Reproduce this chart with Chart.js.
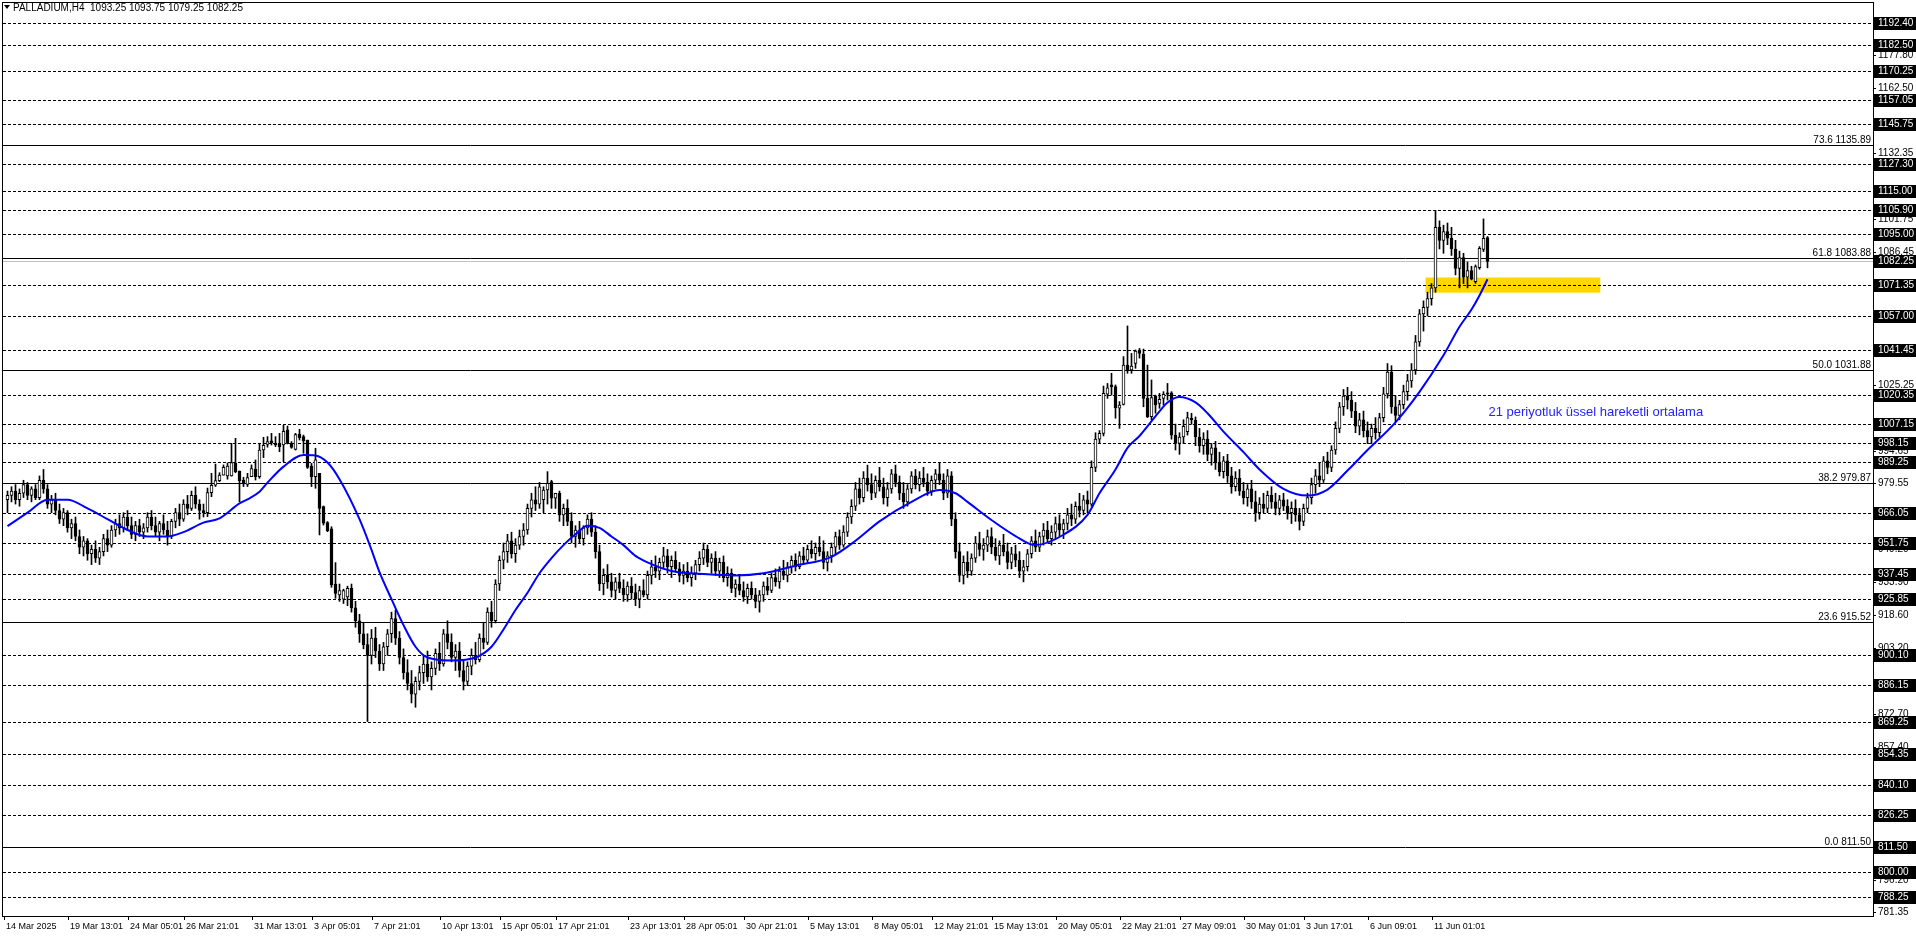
<!DOCTYPE html>
<html>
<head>
<meta charset="utf-8">
<title>PALLADIUM,H4</title>
<script src="https://cdn.jsdelivr.net/npm/chart.js@4.4.1/dist/chart.umd.min.js"></script>
<style>
  html, body { margin: 0; padding: 0; background: #fff; overflow: hidden; }
  canvas { display: block; }
</style>
</head>
<body>
<canvas id="chart" width="1916" height="936"></canvas>
<script>
// H4 candles, one entry per bar (bar 0 = 14 Mar, bar 370 = last bar)
const opens = [
  972, 974, 976, 972, 975, 979, 974, 977, 973, 981,
  977, 970, 972, 967, 963, 966, 959, 961, 955, 950,
  953, 947, 949, 945, 948, 954, 951, 958, 961, 959,
  964, 960, 956, 960, 957, 959, 964, 960, 957, 961,
  958, 955, 962, 966, 963, 970, 968, 974, 970, 967,
  966.0, 975.3, 978.7, 980.8, 983.4, 983.0, 983.0, 988.8, 985.3, 981.1,
  979.1, 982.7, 986.2, 982.7, 995.0, 997.6, 999.2, 998.1, 997.9, 997.3,
  1004.3, 998.1, 995.3, 1002.3, 1001.2, 999.6, 987.6, 982.7, 984.2, 968.8,
  961.4, 958.5, 933.0, 928, 926, 927, 931, 922, 916, 910,
  905, 900, 908, 902, 896, 904, 910, 917, 908, 899,
  892, 887, 882, 888, 892, 896, 890, 894, 901, 896,
  910, 906, 899, 902, 893, 888, 895, 900, 898, 908,
  906, 920, 916, 933, 944, 948, 953, 947, 951, 955,
  958, 968, 972, 970, 972, 976.5, 980.4, 972.7, 975, 965,
  968, 962, 955, 958, 954, 959, 963, 957, 948, 933,
  937, 934, 930, 934, 931, 928, 932, 929, 926, 930,
  928, 937, 941, 939, 943, 946, 941, 944, 940, 937,
  939, 936, 938, 942, 945, 949, 943, 945, 939, 943,
  936, 938, 931, 933, 930, 927, 931, 928, 925, 928,
  932, 930, 936, 934, 939, 937, 941, 944, 941, 946,
  944, 949, 947, 950, 948, 943, 946, 950, 955, 951,
  957, 964, 969, 977, 973, 982, 979, 975, 981, 978,
  973, 977, 984, 980, 975, 971, 977, 983, 979, 982,
  980, 976, 981, 984, 981, 975, 983, 963, 948, 937,
  943, 939, 945, 952, 949, 951, 955, 950, 946, 951,
  948, 943, 947, 944, 939, 941, 947, 953, 950, 955,
  958, 954, 957, 961, 958, 961, 965, 963, 969, 967,
  972, 970, 987, 1000, 1002.7, 1020.8, 1025.1, 1024.3, 1014.3, 1016.1,
  1034.3, 1032.0, 1035.1, 1041.0, 1039.4, 1018.9, 1010.4, 1020.0, 1016.6, 1018.9,
  1021.5, 1021.5, 1001.9, 998, 1001, 1003.5, 1009.7, 1008.9, 1001, 997,
  1000, 993, 996, 989, 985, 990, 983, 978, 982, 976,
  973, 977, 971, 966, 970, 968, 974, 971, 968, 972,
  969, 966, 968, 965, 962, 968, 973, 979, 983, 981,
  990, 987, 995, 1005, 1015, 1020, 1018, 1013, 1006, 1009,
  1004, 1001, 1005, 1003, 1010, 1021, 1031, 1015, 1011, 1016,
  1022, 1027, 1032, 1045, 1058, 1061, 1065, 1070, 1098, 1092,
  1096, 1093, 1088, 1079, 1084, 1075, 1078, 1072.9, 1079.4, 1087.8,
  1093.25
];
const highs = [
  976, 978, 979, 977, 981, 980, 978, 979, 983, 986,
  979, 974, 975, 970, 968, 967, 963, 964, 958, 955,
  954, 951, 953, 950, 956, 958, 960, 963, 965, 966,
  967, 964, 962, 963, 961, 966, 967, 964, 962, 965,
  962, 963, 968, 970, 972, 974, 976, 978, 972, 970,
  977.4, 984.2, 988.5, 984.5, 988.1, 989, 998.1, 1000.4, 985.3, 982.4,
  984.2, 988.1, 990.4, 997.8, 1000.9, 1001.2, 1002.7, 1001.2, 1002.7, 1006.4,
  1006.1, 998.9, 1002.7, 1004.6, 1001.9, 999.6, 988.8, 995.8, 984.2, 969.1,
  961.9, 959.5, 942.9, 933, 930.6, 932, 933, 925, 919, 915,
  910, 912, 913, 905, 906, 912, 920, 921, 911, 903,
  898, 893, 890, 895, 900, 902, 897, 903, 906, 912,
  916, 910, 905, 906, 898, 897, 903, 906, 910, 915,
  922, 925, 935, 946, 952, 956, 957, 954, 958, 961,
  970, 975, 978, 980, 978, 985, 981, 975, 976, 970,
  972, 966, 960, 962, 960, 965, 966, 960, 951, 940,
  942, 938, 936, 938, 935, 934, 936, 933, 932, 935,
  939, 944, 946, 945, 950, 949, 946, 948, 943, 942,
  943, 941, 944, 948, 952, 951, 947, 948, 945, 946,
  941, 940, 935, 937, 934, 933, 934, 931, 930, 934,
  936, 938, 940, 941, 944, 943, 946, 947, 948, 950,
  951, 953, 952, 955, 953, 948, 952, 957, 958, 960,
  966, 972, 980, 982, 985, 988, 984, 983, 987, 982,
  980, 986, 988, 983, 980, 979, 985, 986, 985, 987,
  984, 983, 986, 989, 984, 986, 985, 966, 952, 946,
  948, 947, 955, 957, 954, 958, 959, 954, 953, 956,
  952, 950, 951, 948, 944, 949, 955, 958, 957, 961,
  962, 960, 964, 965, 963, 968, 970, 971, 975, 974,
  976, 990, 1003, 1004, 1024.6, 1025.8, 1030.5, 1025.1, 1017.4, 1038.2,
  1052.4, 1039.7, 1041.3, 1042.0, 1041.7, 1034.3, 1027.4, 1020.4, 1021.2, 1022.0,
  1025.8, 1022.0, 1007, 1003, 1009, 1012.5, 1012.0, 1010.3, 1005, 1003,
  1004, 998, 999, 994, 992, 993, 987, 985, 986, 980,
  979, 981, 976, 973, 975, 976, 978, 975, 974, 975,
  972, 971, 972, 968, 970, 975, 982, 986, 989, 992,
  994, 997, 1008, 1017, 1023, 1024, 1022, 1017, 1012, 1013,
  1008, 1007, 1010, 1012, 1024, 1035, 1034, 1020, 1018, 1025,
  1030, 1035, 1048, 1060, 1064, 1068, 1072, 1105.9, 1101, 1099,
  1100, 1098, 1092, 1087, 1086, 1082, 1080, 1080.6, 1089.1, 1101.9,
  1093.75
];
const lows = [
  966, 971, 970, 969, 973, 972, 971, 972, 972, 975,
  968, 966, 965, 961, 960, 957, 954, 953, 947, 946,
  944, 942, 943, 942, 946, 948, 950, 955, 956, 957,
  958, 954, 953, 955, 954, 957, 958, 955, 953, 956,
  951, 954, 959, 960, 962, 965, 967, 968, 963, 964,
  964.2, 973.4, 978.1, 980.4, 983.4, 981.5, 982.9, 984.5, 971.1, 978.1,
  978.1, 982.7, 981.1, 981.9, 991.5, 996.3, 997.3, 996.6, 994.2, 989.6,
  997.8, 995.8, 995.0, 999.6, 993.5, 986.5, 978.1, 977.3, 955.7, 960.3,
  957.2, 931.5, 926.4, 925, 924, 923, 920, 913, 906, 903,
  869.4, 896, 899, 893, 893, 900, 906, 905, 896, 889,
  884, 878, 876, 884, 887, 888, 884, 891, 893, 895,
  903, 897, 893, 890, 884, 886, 891, 896, 897, 903,
  905, 913, 915, 930, 940, 943, 945, 943, 949, 951,
  956, 964, 967, 968, 966, 970, 968, 968, 962, 960,
  960, 952, 950, 952, 951, 956, 955, 945, 930, 928,
  931, 927, 926, 929, 925, 925, 926, 923, 922, 927,
  926, 933, 936, 935, 940, 938, 936, 939, 934, 933,
  934, 932, 935, 939, 942, 941, 938, 937, 936, 934,
  932, 929, 927, 928, 925, 924, 926, 922, 920, 925,
  928, 929, 932, 931, 935, 934, 938, 939, 940, 942,
  943, 945, 944, 946, 940, 939, 943, 947, 949, 950,
  955, 961, 967, 970, 971, 976, 972, 973, 976, 970,
  969, 975, 978, 972, 968, 969, 975, 977, 976, 978,
  974, 974, 977, 979, 972, 973, 960, 945, 934, 933,
  936, 937, 943, 946, 944, 948, 947, 944, 942, 946,
  940, 940, 941, 936, 934, 939, 945, 948, 948, 951,
  952, 951, 954, 955, 954, 958, 960, 961, 964, 965,
  966, 969, 985, 998, 1001.5, 1018.9, 1020.4, 1009.7, 1005.0, 1015.8,
  1030.5, 1030.5, 1032.8, 1037.5, 1015.0, 1010.0, 1008.9, 1012.0, 1014.3, 1015.8,
  1018.1, 1000, 995, 993, 998, 1001.9, 1006.9, 997, 994, 993,
  990, 988, 986, 983, 982, 980, 975, 976, 974, 970,
  969, 968, 962, 963, 966, 966, 968, 965, 965, 967,
  963, 961, 962, 958, 960, 966, 970, 975, 978, 980,
  984, 985, 993, 1003, 1011, 1014, 1010, 1003, 1002, 1001,
  998, 998, 1000, 1001, 1008, 1019, 1012, 1008, 1009, 1014,
  1018, 1024, 1030, 1043, 1050, 1057, 1062, 1068, 1088, 1086,
  1090, 1085, 1076, 1070, 1072, 1070, 1073.7, 1072.1, 1078.6, 1086.8,
  1079.25
];
const closes = [
  974, 976, 972, 975, 979, 974, 977, 973, 981, 977,
  970, 972, 967, 963, 966, 959, 961, 955, 950, 953,
  947, 949, 945, 948, 954, 951, 958, 961, 959, 964,
  960, 956, 960, 957, 959, 964, 960, 957, 961, 958,
  955, 962, 966, 963, 970, 968, 974, 970, 967, 966,
  975.3, 978.7, 980.8, 983.4, 987.0, 987.6, 989.2, 985.0, 980.8, 979.3,
  982.2, 986.4, 982.7, 995.0, 997.2, 998.9, 998.4, 997.3, 996.6, 1003.6,
  998.1, 996.2, 1002.1, 1000.7, 999.2, 987.0, 982.7, 990.4, 968.0, 961.1,
  957.7, 932.6, 928.7, 930, 930, 931, 922, 916, 910, 905,
  900, 908, 902, 896, 904, 910, 917, 908, 899, 892,
  887, 882, 888, 892, 896, 890, 894, 901, 896, 910,
  906, 899, 902, 893, 888, 895, 900, 898, 908, 906,
  920, 916, 933, 944, 948, 953, 947, 951, 955, 958,
  968, 972, 970, 978, 976.5, 979.6, 972.7, 975, 965, 968,
  962, 955, 958, 954, 959, 963, 957, 948, 933, 937,
  934, 930, 934, 931, 928, 932, 929, 926, 930, 928,
  937, 941, 939, 943, 946, 941, 944, 940, 937, 939,
  936, 938, 942, 945, 949, 943, 945, 939, 943, 936,
  938, 931, 933, 930, 927, 931, 928, 925, 928, 932,
  930, 936, 934, 939, 937, 941, 944, 941, 946, 944,
  949, 947, 950, 948, 943, 946, 950, 955, 951, 957,
  964, 969, 977, 973, 982, 979, 975, 981, 978, 973,
  977, 984, 980, 975, 971, 977, 983, 979, 982, 980,
  976, 981, 984, 981, 975, 983, 963, 948, 937, 943,
  939, 945, 952, 949, 951, 955, 950, 946, 951, 948,
  943, 947, 944, 939, 941, 947, 953, 950, 955, 958,
  954, 957, 961, 958, 961, 965, 963, 969, 967, 972,
  970, 987, 1000, 1002.7, 1021.2, 1023.8, 1024.3, 1014.6, 1015.8, 1034.3,
  1032.0, 1033.8, 1040.8, 1039.7, 1018.9, 1010.4, 1019.3, 1015.8, 1018.4, 1020.8,
  1020.8, 1001.9, 998, 1001, 1006, 1010.0, 1008.9, 1001, 997, 1000,
  993, 996, 989, 985, 990, 983, 978, 982, 976, 973,
  977, 971, 966, 970, 968, 974, 971, 968, 972, 969,
  966, 968, 965, 962, 968, 973, 979, 983, 981, 990,
  987, 995, 1005, 1015, 1020, 1018, 1013, 1006, 1009, 1004,
  1001, 1005, 1003, 1010, 1021, 1031, 1015, 1011, 1016, 1022,
  1027, 1032, 1045, 1058, 1061, 1065, 1070, 1098, 1092, 1096,
  1093, 1088, 1079, 1084, 1075, 1078, 1074.0, 1079.8, 1088.3, 1092.9,
  1082.25
];

// 21 period EMA at these bars
const emaBars = [
  0, 5, 10, 15, 20, 25, 30, 35, 40, 44, 49, 53, 58, 60, 63, 65, 69, 74, 77, 80,
  83, 88, 91, 93, 96, 99, 102, 105, 111, 117, 121, 124, 127, 130, 133, 136, 139, 142, 145, 148,
  151, 154, 157, 160, 166, 175, 182, 189, 197, 206, 212, 218, 226, 233, 237, 240, 246, 252, 257, 264,
  270, 273, 277, 280, 283, 288, 290, 293, 297, 300, 304, 309, 313, 319, 325, 330, 335, 340, 347, 353,
  359, 363, 366, 368, 370
];
const emaValues = [
  959.8, 966, 972, 972, 968, 963, 958, 955, 955, 957, 961.4, 963.4, 970.3, 972.2, 975.7, 979.9, 987.3, 992.7, 992.5, 989.2,
  981.5, 963, 948.8, 938.5, 926, 914, 904, 899, 897.6, 899, 904, 912, 921, 929, 938, 945, 951, 956, 960, 959,
  955, 951, 946, 943, 939, 937.5, 937, 938, 941.5, 945.6, 953, 962, 971, 976.5, 975, 971, 962.6, 955.2, 951, 955.8,
  965, 975, 986, 996, 1001.5, 1012.9, 1017, 1019.5, 1017, 1012, 1003.5, 994, 986, 977, 973.9, 976.7, 985.5, 995, 1007.8, 1021.9,
  1038.8, 1052, 1060, 1066.5, 1074
];

// time axis
const dateTickBars = [0, 16, 31, 45, 62, 77, 92, 109, 124, 138, 156, 170, 185, 201, 217, 232, 247, 263, 279, 294, 310, 325, 341, 357];
const dateTickLabels = [
  "14 Mar 2025", "19 Mar 13:01", "24 Mar 05:01", "26 Mar 21:01", "31 Mar 13:01", "3 Apr 05:01",
  "7 Apr 21:01", "10 Apr 13:01", "15 Apr 05:01", "17 Apr 21:01", "23 Apr 13:01", "28 Apr 05:01",
  "30 Apr 21:01", "5 May 13:01", "8 May 05:01", "12 May 21:01", "15 May 13:01", "20 May 05:01",
  "22 May 21:01", "27 May 09:01", "30 May 01:01", "3 Jun 17:01", "6 Jun 09:01", "11 Jun 01:01"
];

// price axis
const priceTicks = [1177.80, 1162.50, 1132.35, 1101.75, 1086.45, 1025.25, 994.65, 979.55, 964.30, 949.20,
  933.90, 918.60, 903.20, 872.70, 857.40, 796.20, 781.35];
const levelLines = [1192.40, 1182.50, 1170.25, 1157.05, 1145.75, 1127.30, 1115.00, 1105.90, 1095.00, 1071.35,
  1057.00, 1041.45, 1020.35, 1007.15, 998.15, 989.25, 966.05, 951.75, 937.45, 925.85,
  900.10, 886.15, 869.25, 854.35, 840.10, 826.25, 800.00, 788.25];
const fibLevels = [1135.89, 1083.88, 1031.88, 979.87, 915.52, 811.50];
const fibNames = ["73.6", "61.8", "50.0", "38.2", "23.6", "0.0"];
const lastPrice = 1082.25;
const lastBar = [1093.25, 1093.75, 1079.25, 1082.25];

// yellow support box
const zoneBars = [354.5, 398.2];
const zonePrices = [1067.8, 1074.8];

const emaText = "21 periyotluk üssel hareketli ortalama";

const barIdx = closes.map((c, i) => i);
const AXIS_FONT = "10px 'Liberation Sans', Arial, sans-serif";
const TIME_FONT = "9px 'Liberation Sans', Arial, sans-serif";

function hLine(ctx, x1, x2, y) {
  ctx.beginPath();
  ctx.moveTo(x1, y);
  ctx.lineTo(x2, y);
  ctx.stroke();
}

const mtPlugin = {
  id: "mtOverlay",
  beforeDraw(chart) {
    const ctx = chart.ctx;
    ctx.save();
    ctx.fillStyle = "#fff";
    ctx.fillRect(0, 0, chart.width, chart.height);
    ctx.restore();
  },
  beforeDatasetsDraw(chart) {
    const { ctx, chartArea: a, scales: { x, y } } = chart;
    ctx.save();
    // zone
    const zx1 = x.getPixelForValue(zoneBars[0]);
    const zx2 = x.getPixelForValue(zoneBars[1]);
    const zy1 = y.getPixelForValue(zonePrices[1]);
    const zy2 = y.getPixelForValue(zonePrices[0]);
    ctx.fillStyle = "#ffd700";
    ctx.fillRect(zx1, zy1, zx2 - zx1, zy2 - zy1);

    ctx.lineWidth = 1;
    ctx.strokeStyle = "#000";
    // dashed levels
    ctx.setLineDash([3, 2]);
    levelLines.forEach((v) => hLine(ctx, a.left, a.right, Math.round(y.getPixelForValue(v)) + 0.5));
    ctx.setLineDash([]);
    // current price
    ctx.strokeStyle = "#c0c0c0";
    hLine(ctx, a.left, a.right, Math.round(y.getPixelForValue(lastPrice)) + 0.5);
    // fibo levels
    ctx.strokeStyle = "#000";
    ctx.fillStyle = "#000";
    ctx.font = AXIS_FONT;
    ctx.textAlign = "right";
    ctx.textBaseline = "alphabetic";
    fibLevels.forEach((v, k) => {
      const py = Math.round(y.getPixelForValue(v)) + 0.5;
      hLine(ctx, a.left, a.right, py);
      ctx.fillText(fibNames[k] + " " + v.toFixed(2), a.right - 2, py - 3);
    });
    ctx.restore();
  },
  afterDraw(chart) {
    const { ctx, chartArea: a, scales: { x, y } } = chart;
    ctx.save();
    // frame
    ctx.strokeStyle = "#000";
    ctx.lineWidth = 1;
    ctx.strokeRect(a.left - 0.5, a.top + 0.5, a.right - a.left + 1, a.bottom - a.top);

    ctx.font = AXIS_FONT;
    ctx.textBaseline = "middle";
    ctx.textAlign = "left";
    // plain price ticks
    ctx.fillStyle = "#000";
    priceTicks.forEach((v) => {
      const py = Math.round(y.getPixelForValue(v)) + 0.5;
      hLine(ctx, a.right, a.right + 3, py);
      ctx.fillText(v.toFixed(2), a.right + 5, py);
    });
    // boxed price labels
    const boxed = levelLines.concat([lastPrice, fibLevels[fibLevels.length - 1]]);
    boxed.forEach((v) => {
      const py = Math.round(y.getPixelForValue(v));
      ctx.fillStyle = "#000";
      ctx.fillRect(a.right + 1, py - 6, chart.width - a.right - 1, 13);
      ctx.fillStyle = "#fff";
      ctx.fillText(v.toFixed(2), a.right + 5, py + 0.5);
    });

    // time labels
    ctx.fillStyle = "#000";
    ctx.font = TIME_FONT;
    dateTickBars.forEach((b, k) => {
      const px = Math.round(x.getPixelForValue(b)) - 3.5;
      ctx.beginPath();
      ctx.moveTo(px, a.bottom);
      ctx.lineTo(px, a.bottom + 4);
      ctx.stroke();
      ctx.fillText(dateTickLabels[k], px + 1.5, a.bottom + 11);
    });

    // header
    ctx.font = "10px 'Liberation Sans', Arial, sans-serif";
    ctx.beginPath();
    ctx.moveTo(4, 5);
    ctx.lineTo(10, 5);
    ctx.lineTo(7, 9);
    ctx.closePath();
    ctx.fill();
    ctx.fillText("PALLADIUM,H4  " + lastBar.map((v) => v.toFixed(2)).join(" "), 13, 8);

    // EMA caption
    ctx.fillStyle = "#2424ff";
    ctx.font = "13px 'Liberation Sans', Arial, sans-serif";
    ctx.fillText(emaText, x.getPixelForValue(370) + 1, y.getPixelForValue(1012.5));
    ctx.restore();
  }
};

new Chart(document.getElementById("chart"), {
  type: "bar",
  data: {
    datasets: [
      {
        type: "line",
        label: "EMA 21",
        data: emaBars.map((b, k) => ({ x: b, y: emaValues[k] })),
        borderColor: "#0000ff",
        borderWidth: 2,
        pointRadius: 0,
        cubicInterpolationMode: "monotone",
        order: 0,
      },
      {
        label: "body",
        data: barIdx.map((i) => ({ x: i, y: [opens[i], closes[i]] })),
        backgroundColor: barIdx.map((i) => (closes[i] >= opens[i] ? "#ffffff" : "#000000")),
        borderColor: "#000",
        borderWidth: 1,
        borderSkipped: false,
        barThickness: 3,
        grouped: false,
        order: 1,
      },
      {
        label: "wick",
        data: barIdx.map((i) => ({ x: i, y: [lows[i], highs[i]] })),
        backgroundColor: "#000",
        borderWidth: 0,
        barThickness: 1,
        grouped: false,
        order: 2,
      },
    ],
  },
  options: {
    responsive: false,
    animation: false,
    devicePixelRatio: 1,
    layout: { padding: { left: 3, right: 43, top: 2, bottom: 20 } },
    plugins: { legend: { display: false }, tooltip: { enabled: false } },
    scales: {
      x: { type: "linear", min: -1.125, max: 466.375, offset: false, display: false },
      y: { min: 779.43, max: 1202.25, display: false },
    },
  },
  plugins: [mtPlugin],
});
</script>
</body>
</html>
